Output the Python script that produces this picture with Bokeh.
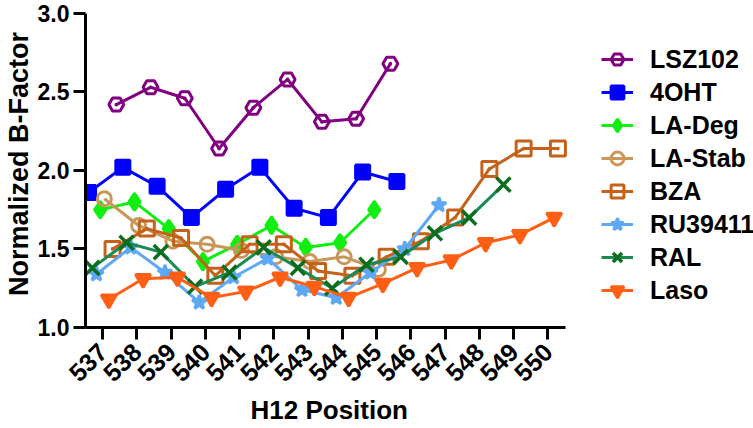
import numpy as np
from math import pi
from bokeh.plotting import figure
from bokeh.models import Legend, LegendItem, Range1d, FixedTicker, NumeralTickFormatter, Title
from bokeh.embed import file_html
from bokeh.resources import INLINE

# ---- data ----
positions = [537, 538, 539, 540, 541, 542, 543, 544, 545, 546, 547, 548, 549, 550]
y_ticks = [1.0, 1.5, 2.0, 2.5, 3.0]

lsz102 = [2.42, 2.53, 2.46, 2.14, 2.40, 2.58, 2.31, 2.33, 2.68]
oht4 = [1.86, 2.02, 1.90, 1.70, 1.88, 2.02, 1.76, 1.70, 1.99, 1.93]
la_deg = [1.75, 1.80, 1.63, 1.42, 1.53, 1.65, 1.51, 1.54, 1.75]
la_stab = [1.82, 1.65, 1.55, 1.53, 1.49, 1.45, 1.42, 1.45, 1.37]
bza = [1.50, 1.63, 1.57, 1.33, 1.53, 1.53, 1.36, 1.33, 1.45, 1.55, 1.70, 2.01, 2.14, 2.14]
ru39411 = [1.34, 1.51, 1.35, 1.16, 1.32, 1.44, 1.24, 1.19, 1.35, 1.50, 1.78]
ral = [1.38, 1.54, 1.48, 1.26, 1.35, 1.51, 1.38, 1.25, 1.40, 1.45, 1.60, 1.70, 1.91]
laso = [1.18, 1.31, 1.32, 1.19, 1.23, 1.32, 1.26, 1.19, 1.28, 1.38, 1.43, 1.54, 1.59, 1.70]

names = ["LSZ102", "4OHT", "LA-Deg", "LA-Stab", "BZA", "RU39411", "RAL", "Laso"]
values = [lsz102, oht4, la_deg, la_stab, bza, ru39411, ral, laso]

x_title = "H12 Position"
y_title = "Normalized B-Factor"

# ---- styles ----
styles = {
    "LSZ102":  dict(line="#800080", mk="#800080", marker="hex_dot", size=15, fill=False, off=0.40, lw=3),
    "4OHT":    dict(line="#0000ff", mk="#0000ff", marker="square", size=14, fill=True, off=-0.41, lw=3),
    "LA-Deg":  dict(line="#11ee11", mk="#11ee11", marker="diamond", size=17, fill=True, off=-0.07, lw=3),
    "LA-Stab": dict(line="#c9975a", mk="#c9975a", marker="circle", size=14, fill=False, off=0.05, lw=3),
    "BZA":     dict(line="#c4621a", mk="#c4621a", marker="square_dot", size=15, fill=False, off=0.29, lw=3),
    "RU39411": dict(line="#5ea8f5", mk="#5ea8f5", marker="star", size=15, fill=True, off=-0.18, lw=3),
    "RAL":     dict(line="#1a8a56", mk="#0b6e1e", marker="x", size=20, fill=False, off=-0.30, lw=3.5),
    "Laso":    dict(line="#ff5f14", mk="#ff5f14", marker="inverted_triangle", size=15, fill=True, off=0.18, lw=3),
}

FONT = "Liberation Sans"

p = figure(width=753, height=428, output_backend="svg", toolbar_location=None,
           x_range=Range1d(536.5, 556.0), y_range=Range1d(1.0, 3.0828),
           min_border_left=84, min_border_right=0, min_border_top=0, min_border_bottom=101)
p.outline_line_color = None
p.grid.visible = False
p.background_fill_color = None
p.border_fill_color = "white"

for ax in (p.xaxis, p.yaxis):
    ax.axis_line_width = 3
    ax.axis_line_color = "black"
    ax.major_tick_line_width = 3
    ax.major_tick_line_color = "black"
    ax.major_tick_out = 12
    ax.major_tick_in = 0
    ax.minor_tick_line_color = None
    ax.major_label_text_font = FONT
    ax.major_label_text_font_style = "bold"
    ax.major_label_text_color = "black"

p.xaxis.major_label_text_font_size = "25px"
p.yaxis.major_label_text_font_size = "23px"
p.xaxis.bounds = (536.5, 550.5)
p.yaxis.bounds = (1.0, 3.0)
p.xaxis.ticker = FixedTicker(ticks=positions)
p.yaxis.ticker = FixedTicker(ticks=y_ticks)
p.yaxis.formatter = NumeralTickFormatter(format="0.0")
p.xaxis.major_label_orientation = pi / 4
p.xaxis.major_label_standoff = 8
p.yaxis.major_label_standoff = 4

# axis titles as side-panel titles so they can be placed under the axis bounds
p.add_layout(Title(text=x_title, align="left", offset=165, standoff=0,
                   text_font=FONT, text_font_style="bold", text_font_size="26px",
                   text_color="black"), "below")
p.add_layout(Title(text=y_title, align="center", standoff=2,
                   text_font=FONT, text_font_style="bold", text_font_size="27px",
                   text_color="black"), "left")

items = []
for name, vals in zip(names, values):
    st = styles[name]
    xs = np.array(positions[:len(vals)], dtype=float) + st["off"]
    ln = p.line(xs, vals, line_color=st["line"], line_width=3)
    sc = p.scatter(xs, vals, marker=st["marker"], size=st["size"],
                   line_color=st["mk"], line_width=st["lw"],
                   fill_color=st["mk"] if st["fill"] else "white",
                   fill_alpha=1.0 if st["fill"] else 0.0)
    items.append(LegendItem(label=name, renderers=[ln, sc]))

legend = Legend(items=items, location=(516, 21))
legend.label_text_font = FONT
legend.label_text_font_style = "bold"
legend.label_text_font_size = "25px"
legend.label_text_color = "black"
legend.glyph_width = 32
legend.glyph_height = 32
legend.label_height = 28
legend.label_standoff = 17
legend.spacing = 1
legend.padding = 0
legend.margin = 0
legend.border_line_color = None
legend.background_fill_alpha = 0
p.add_layout(legend)

open("out.html", "w").write(file_html(p, INLINE))
